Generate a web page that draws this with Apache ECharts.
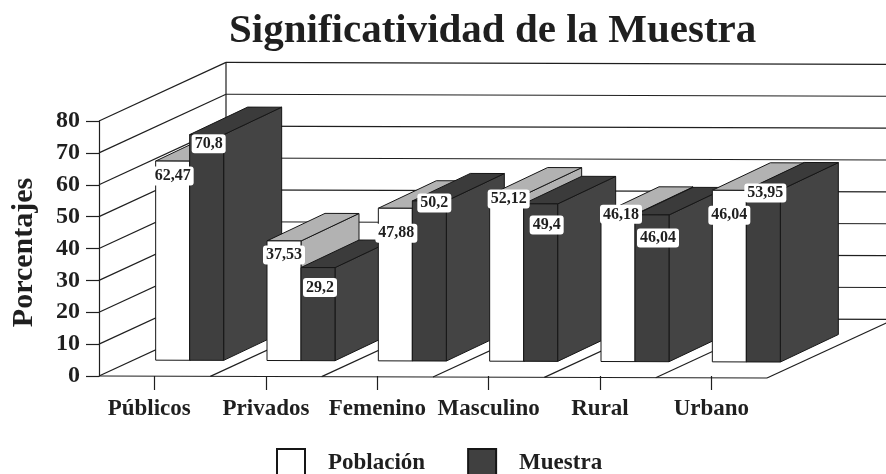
<!DOCTYPE html>
<html>
<head>
<meta charset="utf-8">
<style>html,body{margin:0;padding:0;background:#fff}#c{width:886px;height:474px}</style>
<script src="https://cdn.jsdelivr.net/npm/echarts@6/dist/echarts.min.js"></script>
</head>
<body>
<div id="c"></div>
<script>
const categories = ['Públicos', 'Privados', 'Femenino', 'Masculino', 'Rural', 'Urbano'];
const poblacion = [62.47, 37.53, 47.88, 52.12, 46.18, 53.82];
const muestra = [70.8, 29.2, 50.2, 49.4, 46.04, 53.95];
const poblacionLabels = ['62,47', '37,53', '47,88', '52,12', '46,18', '46,04'];
const muestraLabels = ['70,8', '29,2', '50,2', '49,4', '46,04', '53,95'];
const yTicks = [0, 10, 20, 30, 40, 50, 60, 70, 80];

// label nudges from the default spot (bar front centre / bar top), px
const popLabelNudge = [[0, 15], [0, 14], [1, 25], [2, 4], [3, 0], [0, 25]];
const mueLabelNudge = [[2, 9], [2, 20], [5, 2], [6, 21], [6, 23], [2, 3]];
// horizontal nudge of the first category label (right padding, px)
const firstCategoryPad = 11;

const INK = '#1f1f1f';
const SERIF = '"Liberation Serif", serif';
const DX = 127, DY = -59;          // wall depth vector
const BDX = 58, BDY = -27.5;       // bar depth vector
const LIFT = 16, BAR = 34, TILT = 0.003, X0 = 99;
const t = (x, y) => [x, y + (x - X0) * TILT];
const line = (a, b, z2) => ({
  type: 'line', z2: z2 || 0,
  shape: { x1: a[0], y1: a[1], x2: b[0], y2: b[1] },
  style: { stroke: INK, lineWidth: 1.2, fill: null }
});
const poly = (pts, fill, z2) => ({
  type: 'polygon', z2: z2,
  shape: { points: pts },
  style: { fill: fill, stroke: '#161616', lineWidth: 1, lineJoin: 'round' }
});

function renderWall(params, api) {
  const v = api.value(1);
  const y = api.coord([0, v])[1];
  const band = api.size([1, 0])[0];
  const left = api.coord([0, 0])[0] - band / 2;
  const right = left + band * categories.length;
  const kids = [];
  kids.push(line(t(left, y), t(left + DX, y + DY)));
  kids.push(line(t(left + DX, y + DY), t(right + DX, y + DY)));
  if (v === 0) {
    kids.push(line(t(left, y), t(right, y)));
    kids.push(line(t(right, y), t(right + DX, y + DY)));
    for (let k = 1; k < categories.length; k++) {
      const x = left + band * k;
      kids.push(line(t(x, y), t(x + DX, y + DY)));
    }
    const top = api.coord([0, yTicks[yTicks.length - 1]])[1];
    kids.push(line([left + DX, top + DY], [left + DX, y + DY]));
  }
  return { type: 'group', children: kids };
}

function barRenderer(seriesIdx, faces, labels, nudges) {
  return function (params, api) {
    const i = api.value(0), v = api.value(1);
    const cx = api.coord([i, 0])[0];
    const y0 = api.coord([i, 0])[1] - LIFT;
    const y1 = api.coord([i, v])[1] - LIFT;
    const x0 = cx + 1 + seriesIdx * BAR, x1 = x0 + BAR;
    const z = 10 + i * 10 + seriesIdx * 2;
    const a = t(x0, y1), b = t(x1, y1), c = t(x1, y0), d = t(x0, y0);
    const sh = p => [p[0] + BDX, p[1] + BDY];
    const n = nudges[i];
    const mid = t((x0 + x1) / 2 + n[0], y1 + n[1]);
    return {
      type: 'group',
      children: [
        poly([b, sh(b), sh(c), c], faces.side, z),
        poly([a, sh(a), sh(b), b], faces.top, z),
        poly([a, b, c, d], faces.front, z + 1),
        {
          type: 'text', z2: 500,
          x: mid[0], y: mid[1],
          style: {
            text: labels[i],
            font: 'bold 16px ' + SERIF,
            fill: INK, align: 'center', verticalAlign: 'middle',
            backgroundColor: '#fff', padding: [2, 3, 1, 3], borderRadius: 3
          }
        }
      ]
    };
  };
}

const toData = arr => arr.map((v, i) => [i, v]);
const categoryItems = categories.map((c, i) =>
  i === 0 ? { value: c, textStyle: { padding: [0, firstCategoryPad, 0, 0] } } : c);
const chart = echarts.init(document.getElementById('c'), null, { renderer: 'canvas' });
chart.setOption({
  animation: false,
  backgroundColor: '#fff',
  title: {
    text: 'Significatividad de la Muestra',
    left: 224, top: 6,
    textStyle: { fontFamily: SERIF, fontWeight: 'bold', fontSize: 41, color: INK }
  },
  legend: {
    data: ['Población', 'Muestra'],
    left: 276, top: 448, padding: 0,
    itemWidth: 28, itemHeight: 28, itemGap: 42,
    icon: 'rect',
    textStyle: { fontFamily: SERIF, fontWeight: 'bold', fontSize: 23, color: INK, padding: [8, 0, 0, 18] }
  },
  grid: { left: 99, top: 121, width: 668, height: 255, outerBoundsMode: 'none' },
  xAxis: {
    type: 'category', data: categoryItems, boundaryGap: true,
    axisLine: { show: false },
    axisTick: { show: true, alignWithLabel: true, length: 14, lineStyle: { color: INK, width: 1.2 } },
    axisLabel: { margin: 22, fontFamily: SERIF, fontWeight: 'bold', fontSize: 23, color: INK, interval: 0 },
    splitLine: { show: false }
  },
  yAxis: {
    type: 'value', min: 0, max: 80, interval: 10,
    name: 'Porcentajes', nameLocation: 'middle', nameGap: 60, nameRotate: 90,
    nameTextStyle: { fontFamily: SERIF, fontWeight: 'bold', fontSize: 30, color: INK, padding: [0, 8, 0, 0] },
    axisLine: { show: true, lineStyle: { color: INK, width: 1.2 } },
    axisTick: { show: true, length: 13, lineStyle: { color: INK, width: 1.2 } },
    axisLabel: { margin: 19, fontFamily: SERIF, fontWeight: 'bold', fontSize: 24, color: INK },
    splitLine: { show: false }
  },
  series: [
    { type: 'custom', name: 'marco', silent: true, z: 1,
      data: yTicks.map(v => [0, v]), renderItem: renderWall },
    { type: 'custom', name: 'Población', z: 2,
      itemStyle: { color: '#ffffff', borderColor: '#161616', borderWidth: 1 },
      data: toData(poblacion),
      renderItem: barRenderer(0, { front: '#ffffff', side: '#b2b2b2', top: '#b2b2b2' }, poblacionLabels, popLabelNudge) },
    { type: 'custom', name: 'Muestra', z: 2,
      itemStyle: { color: '#404040', borderColor: '#161616', borderWidth: 1 },
      data: toData(muestra),
      renderItem: barRenderer(1, { front: '#3f3f3f', side: '#444444', top: '#3b3b3b' }, muestraLabels, mueLabelNudge) }
  ]
});
</script>
</body>
</html>
